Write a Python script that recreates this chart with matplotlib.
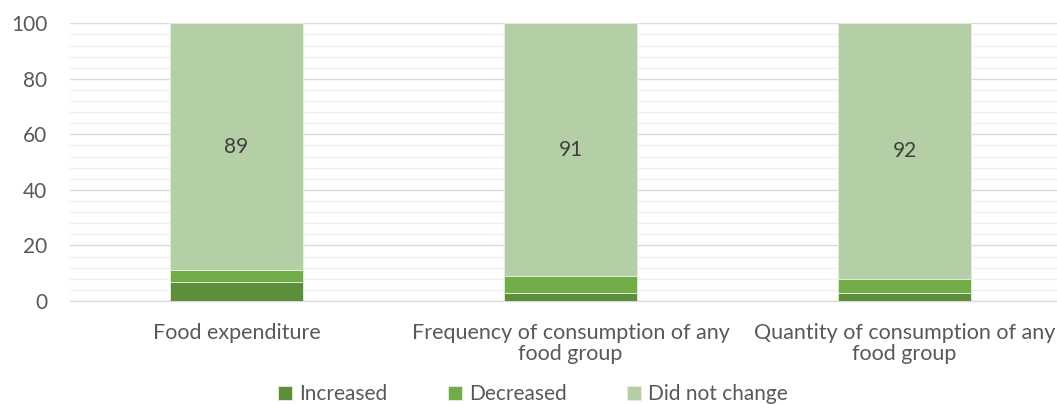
import matplotlib.pyplot as plt
from matplotlib.ticker import MultipleLocator

plt.rcParams['font.family'] = ['Lato', 'DejaVu Sans']

categories = ['Food expenditure',
              'Frequency of consumption of any\nfood group',
              'Quantity of consumption of any\nfood group']
increased = [7, 3, 3]
decreased = [4, 6, 5]
no_change = [89, 91, 92]

series = [('Increased', increased, '#5d8e3a'),
          ('Decreased', decreased, '#70ad47'),
          ('Did not change', no_change, '#b4cea6')]

fig = plt.figure(figsize=(10.57, 4.04), dpi=100)
# plot area runs slightly past the right edge, so the last label gets cut
ax = fig.add_axes([69.5 / 1057, 1 - 301 / 404, 1002 / 1057, 277.7 / 404])

x = list(range(len(categories)))
bottom = [0] * len(categories)
for name, vals, color in series:
    ax.bar(x, vals, width=0.4, bottom=bottom, color=color, label=name,
           edgecolor='#e6efe0', linewidth=0.6, zorder=3)
    bottom = [b + v for b, v in zip(bottom, vals)]

# value labels on the top segment
for i in x:
    base = increased[i] + decreased[i]
    ax.text(i, base + no_change[i] / 2, str(no_change[i]), ha='center',
            va='center', fontsize=15, color='#404040', zorder=4)

ax.set_xlim(-0.5, 2.5)
ax.set_ylim(0, 100)
ax.yaxis.set_major_locator(MultipleLocator(20))
ax.yaxis.set_minor_locator(MultipleLocator(4))
ax.grid(axis='y', which='major', color='#d9d9d9', linewidth=1.0, zorder=0)
ax.grid(axis='y', which='minor', color='#f0f0f0', linewidth=1.0, zorder=0)
ax.tick_params(axis='both', which='both', length=0, labelcolor='#595959')
ax.tick_params(axis='y', pad=16, labelsize=15)
ax.tick_params(axis='x', pad=16, labelsize=15.5)
ax.set_xticks(x)
ax.set_xticklabels(categories, linespacing=1.05)
for side in ['top', 'right', 'left']:
    ax.spines[side].set_visible(False)
ax.spines['bottom'].set_color('#d9d9d9')

ax.legend(loc='lower center', bbox_to_anchor=(0.4626, -0.44), ncol=3,
          frameon=False, fontsize=15, handlelength=0.65, handleheight=0.65,
          handletextpad=0.35, columnspacing=2.9, labelcolor='#595959')

fig.savefig('out.png', dpi=100)
